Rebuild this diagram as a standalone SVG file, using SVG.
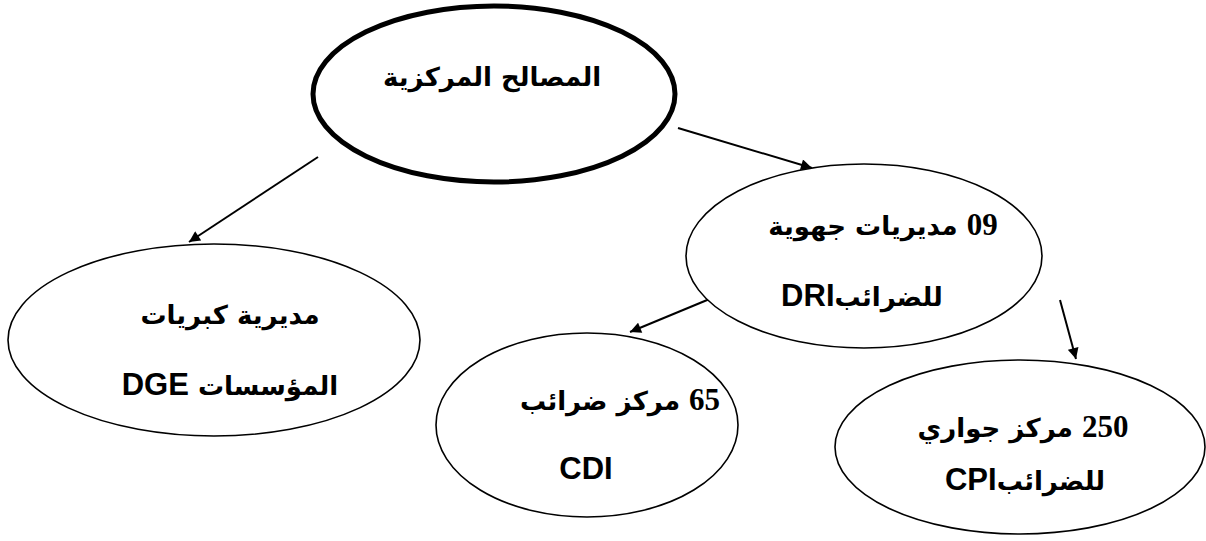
<svg xmlns="http://www.w3.org/2000/svg" width="1206" height="541" viewBox="0 0 1206 541">
  <style>
    .node { fill: #ffffff; stroke: #000000; stroke-width: 1.6; }
    .root { fill: #ffffff; stroke: #000000; stroke-width: 5; }
    .edge { fill: none; stroke: #000000; stroke-width: 2; marker-end: url(#arrow); }
    .lbl { font-family: "DejaVu Sans", "Liberation Sans", sans-serif; font-weight: bold; font-size: 26px; fill: #000; text-anchor: middle; direction: rtl; }
    .lat { font-family: "Liberation Sans", Arial, sans-serif; font-weight: bold; font-size: 31px; }
    .num { font-family: "Liberation Serif", "Times New Roman", serif; font-weight: bold; font-size: 31px; }
  </style>
  <defs>
    <marker id="arrow" viewBox="0 0 10 10" refX="10" refY="5" markerWidth="13" markerHeight="11" markerUnits="userSpaceOnUse" orient="auto">
      <path d="M0,0 L10,5 L0,10 z" fill="#000"/>
    </marker>
  </defs>

  <g id="connectors">
    <line class="edge" x1="318" y1="157" x2="189" y2="242"/>
    <line class="edge" x1="678" y1="128" x2="812" y2="168"/>
    <line class="edge" x1="712" y1="298" x2="630" y2="332"/>
    <line class="edge" x1="1060" y1="300" x2="1076" y2="359"/>
  </g>

  <g id="central">
    <ellipse class="root" cx="494" cy="94" rx="181" ry="88"/>
    <text class="lbl" x="492" y="86">المصالح المركزية</text>
  </g>

  <g id="dge">
    <ellipse class="node" cx="214" cy="340" rx="206" ry="96"/>
    <text class="lbl" x="230" y="324">مديرية كبريات</text>
    <text class="lbl" x="230" y="395">المؤسسات <tspan class="lat">DGE</tspan></text>
  </g>

  <g id="dri">
    <ellipse class="node" cx="864" cy="256" rx="178" ry="92"/>
    <text class="lbl" x="883" y="235"><tspan class="num">09</tspan> مديريات جهوية</text>
    <text class="lbl" x="862" y="306">للضرائب<tspan class="lat">DRI</tspan></text>
  </g>

  <g id="cdi">
    <ellipse class="node" cx="587" cy="425" rx="151" ry="92"/>
    <text class="lbl" x="620" y="410"><tspan class="num">65</tspan> مركز ضرائب</text>
    <text class="lbl" x="586" y="479"><tspan class="lat">CDI</tspan></text>
  </g>

  <g id="cpi">
    <ellipse class="node" cx="1020" cy="447" rx="185" ry="87"/>
    <text class="lbl" x="1023" y="437"><tspan class="num">250</tspan> مركز جواري</text>
    <text class="lbl" x="1025" y="490">للضرائب<tspan class="lat">CPI</tspan></text>
  </g>
</svg>
